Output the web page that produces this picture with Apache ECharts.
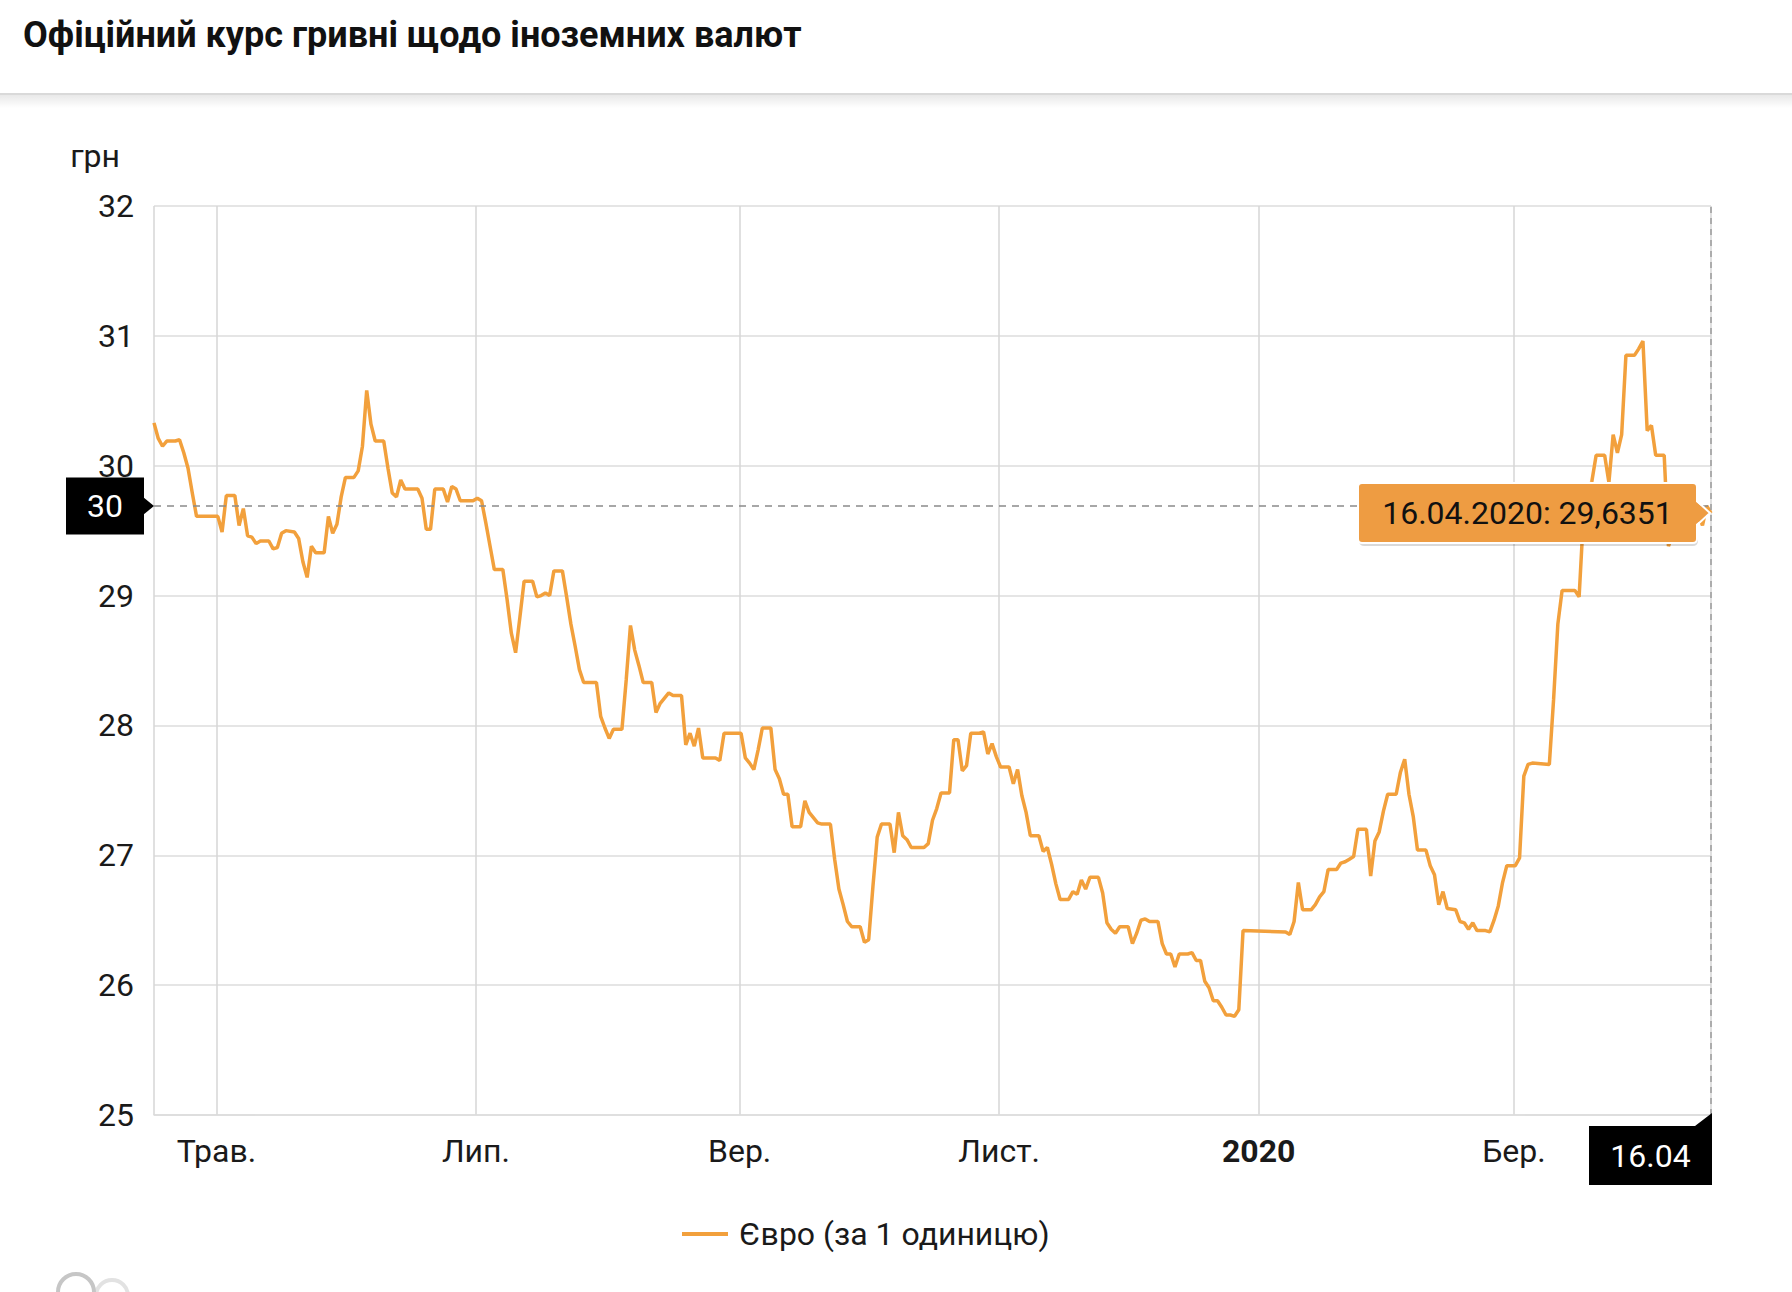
<!DOCTYPE html>
<html>
<head>
<meta charset="utf-8">
<script src="https://cdn.jsdelivr.net/npm/echarts@6/dist/echarts.min.js"></script>
<style>
html,body{margin:0;padding:0;background:#fff;}
#chart{width:1792px;height:1292px;}
</style>
</head>
<body>
<div id="chart"></div>
<script>
const chartTitle = 'Офіційний курс гривні щодо іноземних валют';
const seriesName = 'Євро (за 1 одиницю)';
const yAxisName = 'грн';
const monthNames = ['Січ.','Лют.','Бер.','Квіт.','Трав.','Черв.','Лип.','Серп.','Вер.','Жовт.','Лист.','Груд.'];
const yMin = 25, yMax = 32, yStep = 1;
const pointerValue = 29.69;

const dates = [
'2019-04-16','2019-04-17','2019-04-18','2019-04-19','2019-04-21','2019-04-22','2019-04-23','2019-04-24','2019-04-25','2019-04-26',
'2019-05-01','2019-05-02','2019-05-03','2019-05-05','2019-05-06','2019-05-07','2019-05-08','2019-05-09','2019-05-10','2019-05-11',
'2019-05-13','2019-05-14','2019-05-15','2019-05-16','2019-05-17','2019-05-19','2019-05-20','2019-05-21','2019-05-22','2019-05-23',
'2019-05-24','2019-05-26','2019-05-27','2019-05-28','2019-05-29','2019-05-30','2019-05-31','2019-06-02','2019-06-03','2019-06-04',
'2019-06-05','2019-06-06','2019-06-07','2019-06-09','2019-06-10','2019-06-11','2019-06-12','2019-06-13','2019-06-14','2019-06-17',
'2019-06-18','2019-06-19','2019-06-20','2019-06-21','2019-06-23','2019-06-24','2019-06-25','2019-06-26','2019-06-27','2019-06-30',
'2019-07-01','2019-07-02','2019-07-03','2019-07-04','2019-07-05','2019-07-07','2019-07-08','2019-07-09','2019-07-10','2019-07-11',
'2019-07-12','2019-07-14','2019-07-15','2019-07-16','2019-07-17','2019-07-18','2019-07-19','2019-07-21','2019-07-22','2019-07-23',
'2019-07-24','2019-07-25','2019-07-26','2019-07-29','2019-07-30','2019-07-31','2019-08-01','2019-08-02','2019-08-04','2019-08-05',
'2019-08-06','2019-08-07','2019-08-08','2019-08-09','2019-08-11','2019-08-12','2019-08-13','2019-08-14','2019-08-15','2019-08-16',
'2019-08-18','2019-08-19','2019-08-20','2019-08-21','2019-08-22','2019-08-23','2019-08-26','2019-08-27','2019-08-28','2019-08-29',
'2019-09-01','2019-09-02','2019-09-03','2019-09-04','2019-09-05','2019-09-06','2019-09-08','2019-09-09','2019-09-10','2019-09-11',
'2019-09-12','2019-09-13','2019-09-15','2019-09-16','2019-09-17','2019-09-18','2019-09-19','2019-09-20','2019-09-22','2019-09-23',
'2019-09-24','2019-09-25','2019-09-26','2019-09-27','2019-09-29','2019-09-30','2019-10-01','2019-10-02','2019-10-03','2019-10-04',
'2019-10-06','2019-10-07','2019-10-08','2019-10-09','2019-10-10','2019-10-11','2019-10-14','2019-10-15','2019-10-16','2019-10-17',
'2019-10-18','2019-10-20','2019-10-21','2019-10-22','2019-10-23','2019-10-24','2019-10-25','2019-10-27','2019-10-28','2019-10-29',
'2019-10-30','2019-10-31','2019-11-01','2019-11-03','2019-11-04','2019-11-05','2019-11-06','2019-11-07','2019-11-08','2019-11-10',
'2019-11-11','2019-11-12','2019-11-13','2019-11-14','2019-11-15','2019-11-17','2019-11-18','2019-11-19','2019-11-20','2019-11-21',
'2019-11-22','2019-11-24','2019-11-25','2019-11-26','2019-11-27','2019-11-28','2019-11-29','2019-12-01','2019-12-02','2019-12-03',
'2019-12-04','2019-12-05','2019-12-06','2019-12-08','2019-12-09','2019-12-10','2019-12-11','2019-12-12','2019-12-13','2019-12-15',
'2019-12-16','2019-12-17','2019-12-18','2019-12-19','2019-12-20','2019-12-21','2019-12-22','2019-12-23','2019-12-24','2019-12-25',
'2019-12-26','2019-12-27','2019-12-28','2020-01-07','2020-01-08','2020-01-09','2020-01-10','2020-01-11','2020-01-13','2020-01-14',
'2020-01-15','2020-01-16','2020-01-17','2020-01-19','2020-01-20','2020-01-21','2020-01-22','2020-01-23','2020-01-24','2020-01-26',
'2020-01-27','2020-01-28','2020-01-29','2020-01-30','2020-01-31','2020-02-02','2020-02-03','2020-02-04','2020-02-05','2020-02-06',
'2020-02-07','2020-02-09','2020-02-10','2020-02-11','2020-02-12','2020-02-13','2020-02-14','2020-02-16','2020-02-17','2020-02-18',
'2020-02-19','2020-02-20','2020-02-21','2020-02-23','2020-02-24','2020-02-25','2020-02-26','2020-02-27','2020-02-28','2020-03-01',
'2020-03-02','2020-03-03','2020-03-04','2020-03-05','2020-03-09','2020-03-10','2020-03-11','2020-03-12','2020-03-15','2020-03-16',
'2020-03-17','2020-03-18','2020-03-19','2020-03-20','2020-03-22','2020-03-23','2020-03-24','2020-03-25','2020-03-26','2020-03-27',
'2020-03-29','2020-03-30','2020-03-31','2020-04-01','2020-04-02','2020-04-03','2020-04-05','2020-04-06','2020-04-07','2020-04-08',
'2020-04-09','2020-04-10','2020-04-12','2020-04-13','2020-04-14','2020-04-15','2020-04-16'
];

const eurValues = [
30.33,30.21,30.15,30.19,30.19,30.20,30.10,29.98,29.79,29.61,
29.61,29.49,29.77,29.77,29.54,29.67,29.46,29.45,29.40,29.42,
29.42,29.36,29.37,29.48,29.50,29.49,29.44,29.26,29.14,29.38,
29.33,29.33,29.61,29.48,29.55,29.76,29.91,29.91,29.96,30.15,
30.58,30.32,30.19,30.19,29.98,29.79,29.76,29.89,29.82,29.82,
29.75,29.51,29.51,29.82,29.82,29.72,29.84,29.82,29.73,29.73,
29.75,29.73,29.56,29.38,29.20,29.20,28.97,28.71,28.56,28.83,
29.11,29.11,28.99,29.00,29.02,29.00,29.19,29.19,28.99,28.78,
28.61,28.43,28.33,28.33,28.07,27.98,27.90,27.97,27.97,28.35,
28.77,28.58,28.46,28.33,28.33,28.10,28.17,28.21,28.25,28.23,
28.23,27.85,27.94,27.84,27.98,27.75,27.75,27.73,27.94,27.94,
27.94,27.75,27.71,27.66,27.81,27.98,27.98,27.66,27.59,27.47,
27.47,27.22,27.22,27.42,27.33,27.29,27.25,27.24,27.24,26.97,
26.74,26.62,26.49,26.45,26.45,26.33,26.35,26.76,27.14,27.24,
27.24,27.02,27.33,27.15,27.12,27.06,27.06,27.09,27.27,27.36,
27.48,27.48,27.89,27.89,27.65,27.69,27.94,27.94,27.95,27.78,
27.86,27.76,27.68,27.68,27.55,27.66,27.46,27.33,27.15,27.15,
27.03,27.06,26.93,26.78,26.66,26.66,26.72,26.70,26.81,26.74,
26.83,26.83,26.71,26.48,26.43,26.40,26.45,26.45,26.32,26.40,
26.50,26.51,26.49,26.49,26.32,26.24,26.24,26.14,26.24,26.24,
26.25,26.19,26.19,26.03,25.98,25.88,25.88,25.83,25.77,25.77,
25.76,25.81,26.42,26.41,26.39,26.49,26.79,26.58,26.58,26.62,
26.68,26.72,26.89,26.89,26.94,26.95,26.97,26.99,27.20,27.20,
26.84,27.11,27.18,27.34,27.47,27.47,27.64,27.74,27.47,27.30,
27.04,27.04,26.92,26.85,26.62,26.72,26.59,26.58,26.49,26.48,
26.43,26.48,26.42,26.42,26.41,26.50,26.61,26.79,26.92,26.92,
26.98,27.61,27.70,27.71,27.70,28.20,28.78,29.04,29.04,28.99,
29.60,29.80,29.88,30.08,30.08,29.87,30.24,30.10,30.24,30.85,
30.85,30.90,30.96,30.27,30.31,30.08,30.08,29.38,29.47,29.55,
29.61,29.65,29.65,29.62,29.54,29.69,29.6351
];

const FONT = 'Roboto, "Noto Sans", "DejaVu Sans", sans-serif';
const LINE_COLOR = '#F2A03C';
const TIP_COLOR = '#EE9C42';
const TEXT_COLOR = '#1a1a1a';
const FS = 32;
// the source plots each daily point a few hours into its day, not at midnight
const DAY_OFFSET_MS = 8 * 3600 * 1000;

function parseLocal(s) {
  const p = s.split('-').map(Number);
  return new Date(p[0], p[1] - 1, p[2]).getTime();
}
const times = dates.map(parseLocal);
const seriesData = times.map((t, i) => [t + DAY_OFFSET_MS, eurValues[i]]);
const firstX = seriesData[0][0];
const lastX = seriesData[seriesData.length - 1][0];
const lastTime = times[times.length - 1];
const lastValue = eurValues[eurValues.length - 1];

const chart = echarts.init(document.getElementById('chart'), null, { renderer: 'svg' });

const option = {
  animation: false,
  backgroundColor: '#ffffff',
  title: {
    text: chartTitle,
    left: 18,
    top: 12,
    textStyle: { fontSize: 36, fontWeight: 'bold', color: '#111', fontFamily: FONT }
  },
  grid: { left: 154, right: 81, top: 206, bottom: 177, containLabel: false },
  legend: {
    data: [seriesName],
    left: 677,
    top: 1213,
    icon: 'rect',
    itemWidth: 46,
    itemHeight: 4,
    textStyle: { fontSize: FS, color: TEXT_COLOR, fontFamily: FONT, padding: [0, 0, 0, 6] }
  },
  xAxis: {
    type: 'time',
    min: firstX,
    max: lastX,
    splitNumber: 6,
    axisLine: { show: true, lineStyle: { color: '#dcdcdc', width: 1.5 } },
    axisTick: { show: false },
    splitLine: { show: true, lineStyle: { color: '#d6d6d6', width: 1.5 } },
    axisLabel: {
      fontSize: FS,
      color: TEXT_COLOR,
      fontFamily: FONT,
      margin: 20,
      showMinLabel: false,
      showMaxLabel: false,
      formatter: function (value) {
        const d = new Date(value);
        if (d.getMonth() === 0) return '{yr|' + d.getFullYear() + '}';
        return monthNames[d.getMonth()];
      },
      rich: { yr: { fontSize: FS, fontWeight: 'bold', color: TEXT_COLOR, fontFamily: FONT } }
    }
  },
  yAxis: {
    type: 'value',
    min: yMin,
    max: yMax,
    interval: yStep,
    name: yAxisName,
    nameLocation: 'end',
    nameGap: 34,
    nameTextStyle: { fontSize: FS, color: TEXT_COLOR, fontFamily: FONT, align: 'right', padding: [0, 34, 0, 0] },
    axisLine: { show: false },
    axisTick: { show: false },
    splitLine: { show: true, lineStyle: { color: '#dcdcdc', width: 1.5 } },
    axisLabel: { fontSize: FS, color: TEXT_COLOR, fontFamily: FONT, margin: 20 }
  },
  series: [{
    name: seriesName,
    type: 'line',
    data: seriesData,
    showSymbol: false,
    symbol: 'none',
    color: LINE_COLOR,
    itemStyle: { color: LINE_COLOR },
    lineStyle: { color: LINE_COLOR, width: 3.5 },
    markLine: {
      silent: true,
      symbol: 'none',
      label: { show: false },
      animation: false,
      data: [
        { yAxis: pointerValue, lineStyle: { type: [7, 6], color: '#8a8a8a', width: 1.5 } },
        { xAxis: lastX, lineStyle: { type: [6, 5], color: '#9a9a9a', width: 1.5 } }
      ]
    }
  }],
  graphic: [
    { id: 'headerLine', type: 'rect', z: 1, silent: true,
      shape: { x: 0, y: 93, width: 1792, height: 2 }, style: { fill: '#d9d9d9' } },
    { id: 'headerFade', type: 'rect', z: 1, silent: true,
      shape: { x: 0, y: 95, width: 1792, height: 13 },
      style: { fill: { type: 'linear', x: 0, y: 0, x2: 0, y2: 1,
        colorStops: [{ offset: 0, color: 'rgba(0,0,0,0.09)' }, { offset: 1, color: 'rgba(0,0,0,0)' }] } } }
  ]
};

chart.setOption(option);

const pLast = chart.convertToPixel({ gridIndex: 0 }, [lastX, lastValue]);
const pPointer = chart.convertToPixel({ gridIndex: 0 }, [lastX, pointerValue]);
const pOrigin = chart.convertToPixel({ gridIndex: 0 }, [firstX, yMin]);
const px = pLast[0], py = pLast[1];
const cy = pPointer[1];
const gLeft = pOrigin[0], gBottom = pOrigin[1];

function two(n) { return (n < 10 ? '0' : '') + n; }
const ld = new Date(lastTime);
const tipText = two(ld.getDate()) + '.' + two(ld.getMonth() + 1) + '.' + ld.getFullYear() + ': ' + String(lastValue.toFixed(4)).replace('.', ',');
const xPointerText = two(ld.getDate()) + '.' + two(ld.getMonth() + 1);
const yPointerText = String(Math.round(pointerValue));

const tipW = 339, tipH = 60, tipGap = 14;
const tipRight = px - tipGap;
const tipLeft = tipRight - tipW;

const yLabW = 78, yLabH = 57, yLabArrow = 10;
const yLabRight = gLeft - yLabArrow;
const yLabLeft = yLabRight - yLabW;
const xLabW = 123, xLabTop = gBottom + 11, xLabBottom = gBottom + 70;

chart.setOption({
  graphic: [
    { id: 'yLabBox', type: 'rect', z: 100, silent: true,
      shape: { x: yLabLeft, y: cy - yLabH / 2, width: yLabW, height: yLabH }, style: { fill: '#000000' } },
    { id: 'yLabArrow', type: 'polygon', z: 100, silent: true,
      shape: { points: [[yLabRight - 1, cy - 9], [gLeft, cy], [yLabRight - 1, cy + 9]] }, style: { fill: '#000000' } },
    { id: 'yLabText', type: 'text', z: 101, silent: true,
      style: { text: yPointerText, x: yLabLeft + yLabW / 2, y: cy, align: 'center', verticalAlign: 'middle',
        fontSize: FS, fontFamily: FONT, fill: '#ffffff' } },

    { id: 'xLabBox', type: 'polygon', z: 100, silent: true,
      shape: { points: [[px - xLabW + 1, xLabTop], [px - 16, xLabTop], [px + 1, xLabTop - 13], [px + 1, xLabBottom], [px - xLabW + 1, xLabBottom]] },
      style: { fill: '#000000' } },
    { id: 'xLabText', type: 'text', z: 101, silent: true,
      style: { text: xPointerText, x: px - xLabW / 2 + 1, y: (xLabTop + xLabBottom) / 2, align: 'center', verticalAlign: 'middle',
        fontSize: FS, fontFamily: FONT, fill: '#ffffff' } },

    { id: 'tipShadow', type: 'rect', z: 108, silent: true,
      shape: { x: tipLeft + 1, y: py - tipH / 2 + 3, width: tipW, height: tipH, r: 5 },
      style: { fill: 'rgba(0,0,0,0.15)' } },
    { id: 'tipBox', type: 'rect', z: 110, silent: true,
      shape: { x: tipLeft, y: py - tipH / 2, width: tipW, height: tipH, r: 4 },
      style: { fill: TIP_COLOR, stroke: '#ffffff', lineWidth: 2 } },
    { id: 'tipArrow', type: 'polygon', z: 111, silent: true,
      shape: { points: [[tipRight - 2, py - 12], [px - 1, py], [tipRight - 2, py + 12]] },
      style: { fill: TIP_COLOR } },
    { id: 'tipArrowEdge', type: 'polyline', z: 111, silent: true,
      shape: { points: [[tipRight, py - 12], [px - 1, py], [tipRight, py + 12]] },
      style: { stroke: '#ffffff', lineWidth: 2, fill: null } },
    { id: 'tipText', type: 'text', z: 112, silent: true,
      style: { text: tipText, x: tipLeft + tipW / 2, y: py, align: 'center', verticalAlign: 'middle',
        fontSize: FS, fontFamily: FONT, fill: '#111111' } },

    { id: 'logoB', type: 'arc', z: 5, silent: true,
      shape: { cx: 112, cy: 1296, r: 16, startAngle: Math.PI, endAngle: 2 * Math.PI },
      style: { stroke: '#e2e2e2', lineWidth: 4, fill: null } },
    { id: 'logoA', type: 'arc', z: 6, silent: true,
      shape: { cx: 76, cy: 1292, r: 18, startAngle: Math.PI, endAngle: 2 * Math.PI },
      style: { stroke: '#c6c6c6', lineWidth: 4, fill: null } }
  ]
});
</script>
</body>
</html>
